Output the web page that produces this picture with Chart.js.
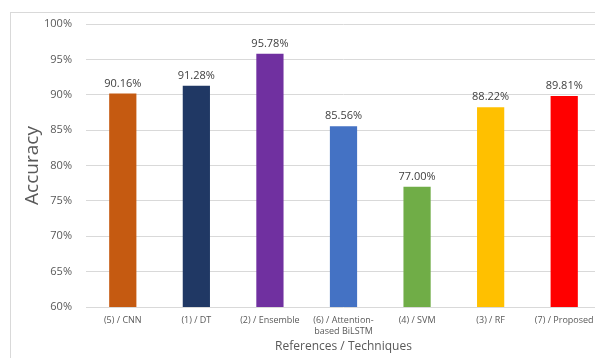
<!DOCTYPE html>
<html>
<head>
<meta charset="utf-8">
<script src="https://cdn.jsdelivr.net/npm/chart.js@4"></script>
<style>
  html, body { margin: 0; padding: 0; background: #fff; overflow: hidden; }
  #frame { position: absolute; left: 10px; top: 12px; width: 620px; height: 400px; border: 1px solid #d9d9d9; }
  #wrap { position: absolute; left: 0; top: 0; width: 620px; height: 358px; }
</style>
</head>
<body>
<div id="frame"></div>
<div id="wrap"><canvas id="myChart" width="620" height="358"></canvas></div>
<script>
const labels = [
  '(5) / CNN',
  '(1) / DT',
  '(2) / Ensemble',
  ['(6) / Attention-', 'based BiLSTM'],
  '(4) / SVM',
  '(3) / RF',
  '(7) / Proposed',
];
const accuracy = [90.16, 91.28, 95.78, 85.56, 77.0, 88.22, 89.81];
const barColors = ['#C55A11', '#203864', '#7030A0', '#4472C4', '#70AD47', '#FFC000', '#FF0000'];

const fontFamily = "'Open Sans', 'Liberation Sans', sans-serif";

// draws the value over each bar
const valueLabels = {
  id: 'valueLabels',
  afterDatasetsDraw(chart) {
    const ctx = chart.ctx;
    const meta = chart.getDatasetMeta(0);
    ctx.save();
    ctx.font = '11px ' + fontFamily;
    ctx.fillStyle = '#404040';
    ctx.textAlign = 'center';
    ctx.textBaseline = 'alphabetic';
    meta.data.forEach((bar, i) => {
      ctx.fillText(accuracy[i].toFixed(2) + '%', bar.x, bar.y - 7);
    });
    ctx.restore();
  },
};

const ctx = document.getElementById('myChart').getContext('2d');
const myChart = new Chart(ctx, {
  type: 'bar',
  data: {
    labels: labels,
    datasets: [
      {
        label: 'Accuracy',
        data: accuracy,
        backgroundColor: barColors,
        borderWidth: 0,
        barPercentage: 0.37,
        categoryPercentage: 1,
      },
    ],
  },
  options: {
    responsive: false,
    animation: false,
    layout: { padding: { top: 24, right: 19, left: 0, bottom: 4 } },
    plugins: {
      legend: { display: false },
      tooltip: { enabled: false },
    },
    scales: {
      x: {
        grid: { display: false, drawTicks: false },
        border: { display: false },
        ticks: {
          color: '#595959',
          font: { size: 9, family: fontFamily },
          padding: 8,
          maxRotation: 0,
          autoSkip: false,
        },
        title: {
          display: true,
          text: 'References / Techniques',
          color: '#595959',
          font: { size: 12, family: fontFamily },
          padding: { top: 0, bottom: 0 },
        },
        afterFit(scale) {
          scale.height = 47;
        },
      },
      y: {
        min: 60,
        max: 100,
        grid: { color: '#d9d9d9', drawTicks: false, lineWidth: 1 },
        border: { display: false },
        ticks: {
          stepSize: 5,
          color: '#595959',
          font: { size: 11, family: fontFamily },
          padding: 14,
          callback: v => v + '%',
        },
        title: {
          display: true,
          text: 'Accuracy',
          color: '#595959',
          font: { size: 19, family: fontFamily },
          padding: { top: 21, bottom: 0 },
        },
        afterFit(scale) {
          scale.width = 86;
        },
      },
    },
  },
  plugins: [valueLabels],
});
</script>
</body>
</html>
